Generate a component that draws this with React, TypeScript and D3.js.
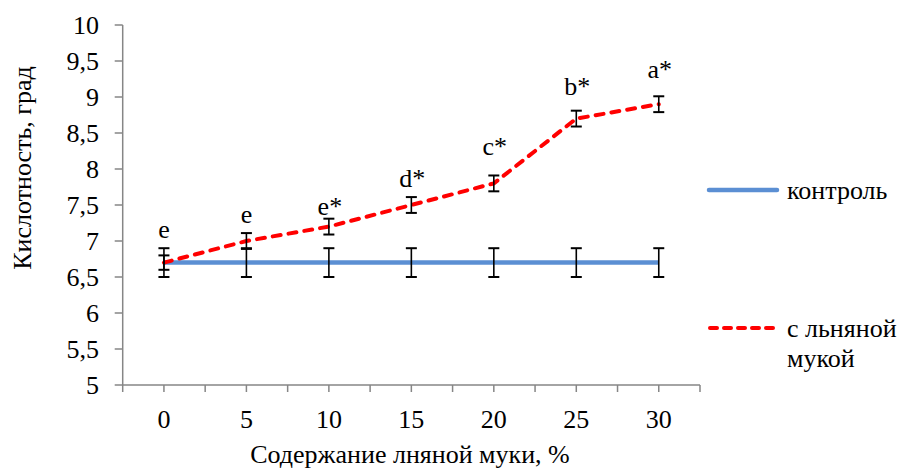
import React from "react";
import * as d3 from "d3";

const categories = ["0", "5", "10", "15", "20", "25", "30"];
const controlValues = [6.7, 6.7, 6.7, 6.7, 6.7, 6.7, 6.7];
const controlErrors = [0.2, 0.2, 0.2, 0.2, 0.2, 0.2, 0.2];
const flaxValues = [6.7, 7.0, 7.2, 7.5, 7.8, 8.7, 8.9];
const flaxErrors = [0.1, 0.11, 0.11, 0.11, 0.11, 0.11, 0.11];
const flaxLabels = ["e", "e", "e*", "d*", "c*", "b*", "a*"];
const flaxLabelValues = [7.04, 7.25, 7.36, 7.75, 8.19, 9.03, 9.26];
const yTicks = [5, 5.5, 6, 6.5, 7, 7.5, 8, 8.5, 9, 9.5, 10];
const seriesNames = ["контроль", "с льняной", "мукой"];
const yTitle = "Кислотность, град";
const xTitle = "Содержание лняной муки, %";

const W = 900;
const H = 468;
const left = 122.7;
const right = 700;
const top = 25;
const bottom = 385;
const FS = 26;

function T(props: { x?: number; y?: number; anchor?: string; transform?: string; children: React.ReactNode }) {
  return (
    <text
      x={props.x}
      y={props.y}
      transform={props.transform}
      textAnchor={props.anchor || "start"}
      fontSize={FS}
      fontFamily="Liberation Serif"
      fill="#000"
    >
      {props.children}
    </text>
  );
}

export default function App() {
  const x = d3.scaleBand<string>().domain(categories).range([left, right]).padding(0);
  const y = d3.scaleLinear().domain([5, 10]).range([bottom, top]);
  const cx = (i: number) => (x(categories[i]) as number) + x.bandwidth() / 2;
  const fmt = (v: number) => String(v).replace(".", ",");
  const line = d3
    .line<number>()
    .x((_, i) => cx(i))
    .y((d) => y(d));

  const axisColor = "#868686";
  const halfTicks: number[] = [];
  const step = x.bandwidth() / 2;
  for (let p = left; p <= right + 0.5; p += step) halfTicks.push(p);

  const errBar = (i: number, v: number, e: number, key: string) => {
    const px = cx(i);
    const y1 = y(v + e);
    const y2 = y(v - e);
    return (
      <g key={key} stroke="#000" strokeWidth={1.6}>
        <line x1={px} x2={px} y1={y1} y2={y2} />
        <line x1={px - 5.5} x2={px + 5.5} y1={y1} y2={y1} strokeWidth={2} />
        <line x1={px - 5.5} x2={px + 5.5} y1={y2} y2={y2} strokeWidth={2} />
      </g>
    );
  };

  return (
    <svg width={W} height={H} style={{ position: "absolute", left: 0, top: 0 }}>
      <rect width={W} height={H} fill="#fff" />
      <line x1={left} x2={left} y1={top} y2={bottom} stroke={axisColor} strokeWidth={1.5} />
      <line x1={left} x2={right} y1={bottom} y2={bottom} stroke={axisColor} strokeWidth={1.5} />
      {yTicks.map((t) => (
        <g key={"yt" + t}>
          <line x1={left - 8} x2={left} y1={y(t)} y2={y(t)} stroke={axisColor} strokeWidth={1.5} />
          <T x={99} y={y(t) + 9} anchor="end">
            {fmt(t)}
          </T>
        </g>
      ))}
      {halfTicks.map((p, i) => (
        <line key={"xt" + i} x1={p} x2={p} y1={bottom} y2={bottom + 7} stroke={axisColor} strokeWidth={1.5} />
      ))}
      {categories.map((c, i) => (
        <T key={"xl" + c} x={cx(i)} y={428} anchor="middle">
          {c}
        </T>
      ))}
      <T x={410} y={463} anchor="middle">
        {xTitle}
      </T>
      <T transform="translate(31,168) rotate(-90)" anchor="middle">
        {yTitle}
      </T>
      <path d={line(controlValues) || ""} fill="none" stroke="#5B8FD3" strokeWidth={4.5} />
      <path
        d={line(flaxValues) || ""}
        fill="none"
        stroke="#FF0000"
        strokeWidth={4}
        strokeDasharray="8 8"
        strokeLinecap="round"
      />
      {controlValues.map((v, i) => errBar(i, v, controlErrors[i], "ce" + i))}
      {flaxValues.map((v, i) => errBar(i, v, flaxErrors[i], "fe" + i))}
      {flaxLabels.map((l, i) => (
        <T key={"lab" + i} x={cx(i) + (l.length > 1 ? 1 : 0)} y={y(flaxLabelValues[i])} anchor="middle">
          {l}
        </T>
      ))}
      <line x1={709} x2={777} y1={190} y2={190} stroke="#5B8FD3" strokeWidth={4.5} strokeLinecap="round" />
      <T x={787} y={199}>
        {seriesNames[0]}
      </T>
      <line x1={710} x2={777} y1={328} y2={328} stroke="#FF0000" strokeWidth={4} strokeDasharray="7 7" strokeLinecap="round" />
      <T x={787} y={337}>
        {seriesNames[1]}
      </T>
      <T x={787} y={367}>
        {seriesNames[2]}
      </T>
    </svg>
  );
}
